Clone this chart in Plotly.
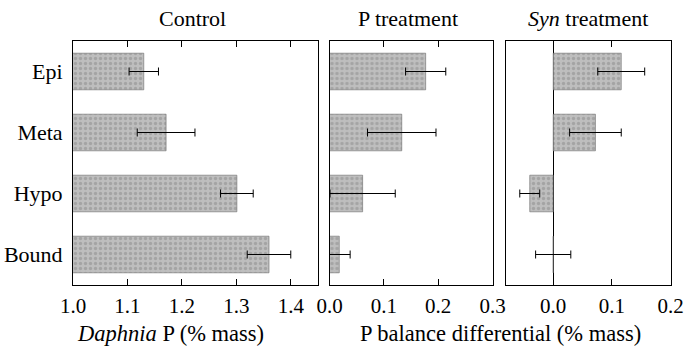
import plotly.graph_objects as go

categories = ["Epi", "Meta", "Hypo", "Bound"]

control_vals = [1.13, 1.171, 1.301, 1.360]
control_err = [0.027, 0.053, 0.030, 0.040]

p_vals = [0.177, 0.133, 0.061, 0.018]
p_err = [0.037, 0.063, 0.060, 0.020]

syn_vals = [0.116, 0.072, -0.040, 0.0]
syn_err = [0.040, 0.044, 0.017, 0.030]

control_ticks = [1.0, 1.1, 1.2, 1.3, 1.4]
p_ticks = [0.0, 0.1, 0.2, 0.3]
syn_ticks = [0.0, 0.1, 0.2]

W, H = 684, 347
FONT = "Liberation Serif"
ypos = list(range(len(categories)))

def px(x):
    return x / W

def py(y):
    return 1 - y / H

panels = [
    (control_vals, control_err, [1.0, 1.45], control_ticks, (73, 318)),
    (p_vals, p_err, [0.0, 0.3], p_ticks, (329.5, 492.5)),
    (syn_vals, syn_err, [-0.0805, 0.2], syn_ticks, (506, 670.5)),
]

fig = go.Figure()
for i, (vals, errs, rng, ticks, (x0, x1)) in enumerate(panels):
    n = "" if i == 0 else str(i + 1)
    fig.add_trace(go.Bar(
        x=vals, y=ypos, orientation="h", width=0.6,
        xaxis="x" + n, yaxis="y" + n,
        marker=dict(color="#b8b8b8",
                    line=dict(color="#6a6a6a", width=0.6),
                    pattern=dict(shape=".", fgcolor="#8a8a8a", bgcolor="#bebebe",
                                 size=5, solidity=0.35)),
        error_x=dict(type="data", array=errs, symmetric=True, color="black",
                     thickness=1, width=4),
        showlegend=False,
    ))
    xa = dict(
        domain=[px(x0), px(x1)], range=rng, anchor="y" + n, automargin=False,
        tickvals=ticks, ticktext=["%.1f" % t for t in ticks],
        ticks="inside", ticklen=6, tickcolor="black", tickwidth=1,
        showline=True, linecolor="black", linewidth=1, mirror="ticks",
        showgrid=False, zeroline=(i == 2), zerolinecolor="black", zerolinewidth=1,
        tickfont=dict(family=FONT, size=21, color="black"),
        ticklabelstandoff=2,
    )
    ya = dict(
        domain=[py(285), py(41)], range=[3.5, -0.5], anchor="x" + n, automargin=False,
        tickvals=ypos, ticktext=categories if i == 0 else [""] * 4,
        showticklabels=(i == 0), ticks="",
        showline=True, linecolor="black", linewidth=1, mirror=True,
        showgrid=False, zeroline=False,
        tickfont=dict(family=FONT, size=22, color="black"),
        ticklabelstandoff=5,
    )
    fig.update_layout(**{"xaxis" + n: xa, "yaxis" + n: ya})

annotations = [
    dict(text="Control", x=px(192), y=py(19), size=22),
    dict(text="P treatment", x=px(408), y=py(19), size=22),
    dict(text="<i>Syn</i> treatment", x=px(588), y=py(19), size=22),
    dict(text="<i>Daphnia</i> P (% mass)", x=px(170), y=py(333), size=22.5),
    dict(text="P balance differential (% mass)", x=px(501), y=py(333), size=22.5),
]
anns = []
for a in annotations:
    s = a.pop("size")
    a.update(xref="paper", yref="paper", showarrow=False, xanchor="center",
             yanchor="middle", font=dict(family=FONT, size=s, color="black"))
    anns.append(a)
fig.update_layout(
    width=W, height=H, margin=dict(l=0, r=0, t=0, b=0),
    paper_bgcolor="white", plot_bgcolor="white",
    annotations=anns, bargap=0.4,
)
fig.write_html(
    "out.html",
    config={"displayModeBar": False, "staticPlot": True},
    post_script="document.body.style.margin='0';document.body.style.overflow='hidden';",
)
